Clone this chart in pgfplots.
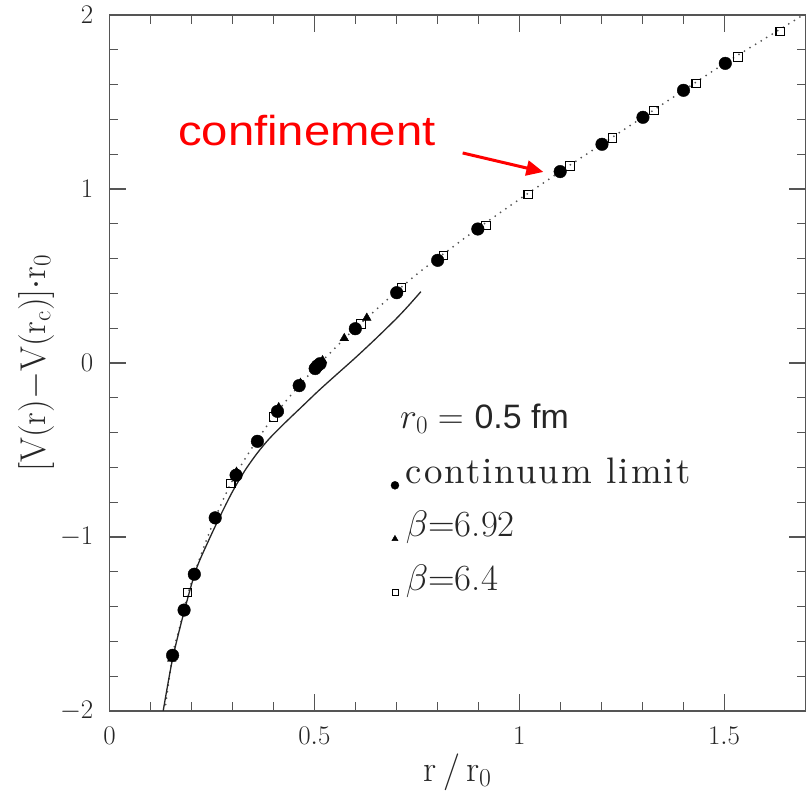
\RequirePackage{fix-cm}
\documentclass[border=0pt]{standalone}
\usepackage{fontspec}
\usepackage{graphicx}
\usepackage{pgfplots}
\pgfplotsset{compat=1.18}
\usetikzlibrary{arrows.meta}
\newfontfamily\arialfont{Liberation Sans}
\newfontfamily\lmspaced{lmroman10-regular}[Extension=.otf, LetterSpace=5.5]
\definecolor{axgray}{HTML}{555555}
\definecolor{dotgray}{HTML}{555555}
\begin{document}
\begin{tikzpicture}
\path[use as bounding box] (0,0) rectangle (806bp,794bp);
\begin{axis}[
  at={(109.5bp,83bp)}, anchor=south west,
  width=696.5bp, height=696bp, scale only axis,
  xmin=0, xmax=1.7, ymin=-2, ymax=2,
  xtick={0,0.5,1,1.5}, ytick={-2,-1,0,1,2},
  minor x tick num=4, minor y tick num=4,
  tick align=inside,
  major tick length=17bp, minor tick length=9bp,
  axis line style={axgray, line width=1.2bp},
  every tick/.style={axgray, line width=1.1bp},
  tick label style={font=\fontsize{27}{32}\selectfont, text=black!85},
  xticklabel style={inner sep=0pt, yshift=-16bp},
  yticklabel style={inner sep=0pt, xshift=-16bp},
  xlabel={$\mathrm{r\,/\,r_0}$},
  ylabel={$[\mathrm{V(r)}{-}\mathrm{V(r_c)}]{\cdot}\mathrm{r_0}$},
  xlabel style={at={(axis description cs:0.5,-0.1006)}, anchor=base, inner sep=0pt, font=\fontsize{37}{44}\selectfont, text=black!85},
  ylabel style={at={(axis description cs:-0.0926,0.5)}, anchor=base, inner sep=0pt, font=\fontsize{36}{42}\selectfont, text=black!85},
  legend entries={{\lmspaced continuum limit}, $\beta$=6.92, $\beta$=6.4},
  legend style={at={(axis cs:0.687,-0.519)}, anchor=north west,
    draw=none, fill=none, inner sep=0pt, outer sep=0pt,
    font=\fontsize{37}{44}\selectfont, text=black!85,
    row sep=13.5bp, column sep=7bp,
    nodes={inner sep=0pt, text height=30bp, text depth=10bp},
    cells={anchor=west}},
  legend image code/.code={\draw[yshift=-12bp, #1] plot coordinates {(0bp,0bp)};},
]
% fitted curve (dotted)
\addplot[dotgray, line width=2bp, dash pattern=on 0bp off 6.5bp, line cap=round, smooth, forget plot] coordinates {
(0.135,-2.0) (0.154,-1.68) (0.17,-1.53) (0.19,-1.34) (0.207,-1.21) (0.23,-1.06) (0.258,-0.89)
(0.30,-0.675) (0.35,-0.48) (0.40,-0.31) (0.45,-0.165) (0.50,-0.035) (0.55,0.085) (0.60,0.20)
(0.65,0.305) (0.70,0.41) (0.75,0.51) (0.80,0.60) (0.90,0.775) (1.00,0.94) (1.10,1.10)
(1.20,1.255) (1.30,1.41) (1.40,1.565) (1.50,1.72) (1.60,1.865) (1.70,2.01)};
% solid curve
\addplot[black!85, line width=1.3bp, smooth, forget plot] coordinates {
(0.131,-2.00) (0.154,-1.70) (0.182,-1.43) (0.211,-1.19) (0.24,-1.03) (0.27,-0.88) (0.30,-0.74)
(0.33,-0.62) (0.36,-0.52) (0.39,-0.435) (0.43,-0.34) (0.47,-0.25) (0.51,-0.16) (0.55,-0.075)
(0.60,0.03) (0.65,0.14) (0.70,0.255) (0.73,0.33) (0.76,0.41)};
% beta = 6.4 (open squares)
\addplot[only marks, mark=square, mark size=4.2bp, mark options={black, line width=1.1bp}, forget plot] coordinates {
(0.19,-1.32) (0.296,-0.693) (0.40,-0.31) (0.614,0.224) (0.713,0.433) (0.815,0.619) (0.919,0.79)
(1.022,0.968) (1.124,1.132) (1.228,1.293) (1.329,1.45) (1.432,1.605) (1.534,1.759) (1.637,1.906)};
% continuum limit (filled circles)
\addplot[only marks, mark=*, mark size=6.3bp, mark options={black}, forget plot] coordinates {
(0.154,-1.68) (0.182,-1.42) (0.207,-1.214) (0.258,-0.89) (0.309,-0.645) (0.361,-0.45) (0.410,-0.278)
(0.463,-0.13) (0.502,-0.032) (0.507,-0.017) (0.514,-0.004) (0.600,0.197) (0.701,0.404) (0.801,0.59)
(0.899,0.77) (1.10,1.10) (1.202,1.257) (1.302,1.412) (1.401,1.567) (1.503,1.722)};
% beta = 6.92 (filled triangles)
\addplot[only marks, mark=triangle*, mark size=5bp, mark options={black}, forget plot] coordinates {
(0.152,-1.70) (0.31,-0.626) (0.413,-0.255) (0.466,-0.115) (0.52,0.015) (0.573,0.142) (0.628,0.259)};
\addlegendimage{only marks, mark=*, mark size=4bp, mark options={black}}
\addlegendimage{only marks, mark=triangle*, mark size=3.5bp, mark options={black}}
\addlegendimage{only marks, mark=square, mark size=3bp, mark options={black, line width=0.9bp}}
\node[anchor=base west, inner sep=0pt, text=black!85] at (axis cs:0.709,-0.375)
  {\fontsize{36}{42}\selectfont $r_0 = $ {\arialfont\fontsize{34}{40}\selectfont 0.5 fm}};
\node[anchor=base west, inner sep=0pt, text=red] at (axis cs:0.167,1.251)
  {\scalebox{1.13}[1]{\arialfont\fontsize{42}{48}\selectfont confinement}};
\draw[red, line width=3bp, -{Triangle[length=17bp,width=15bp]}] (axis cs:0.862,1.207) -- (axis cs:1.059,1.098);
\end{axis}
\end{tikzpicture}
\end{document}
